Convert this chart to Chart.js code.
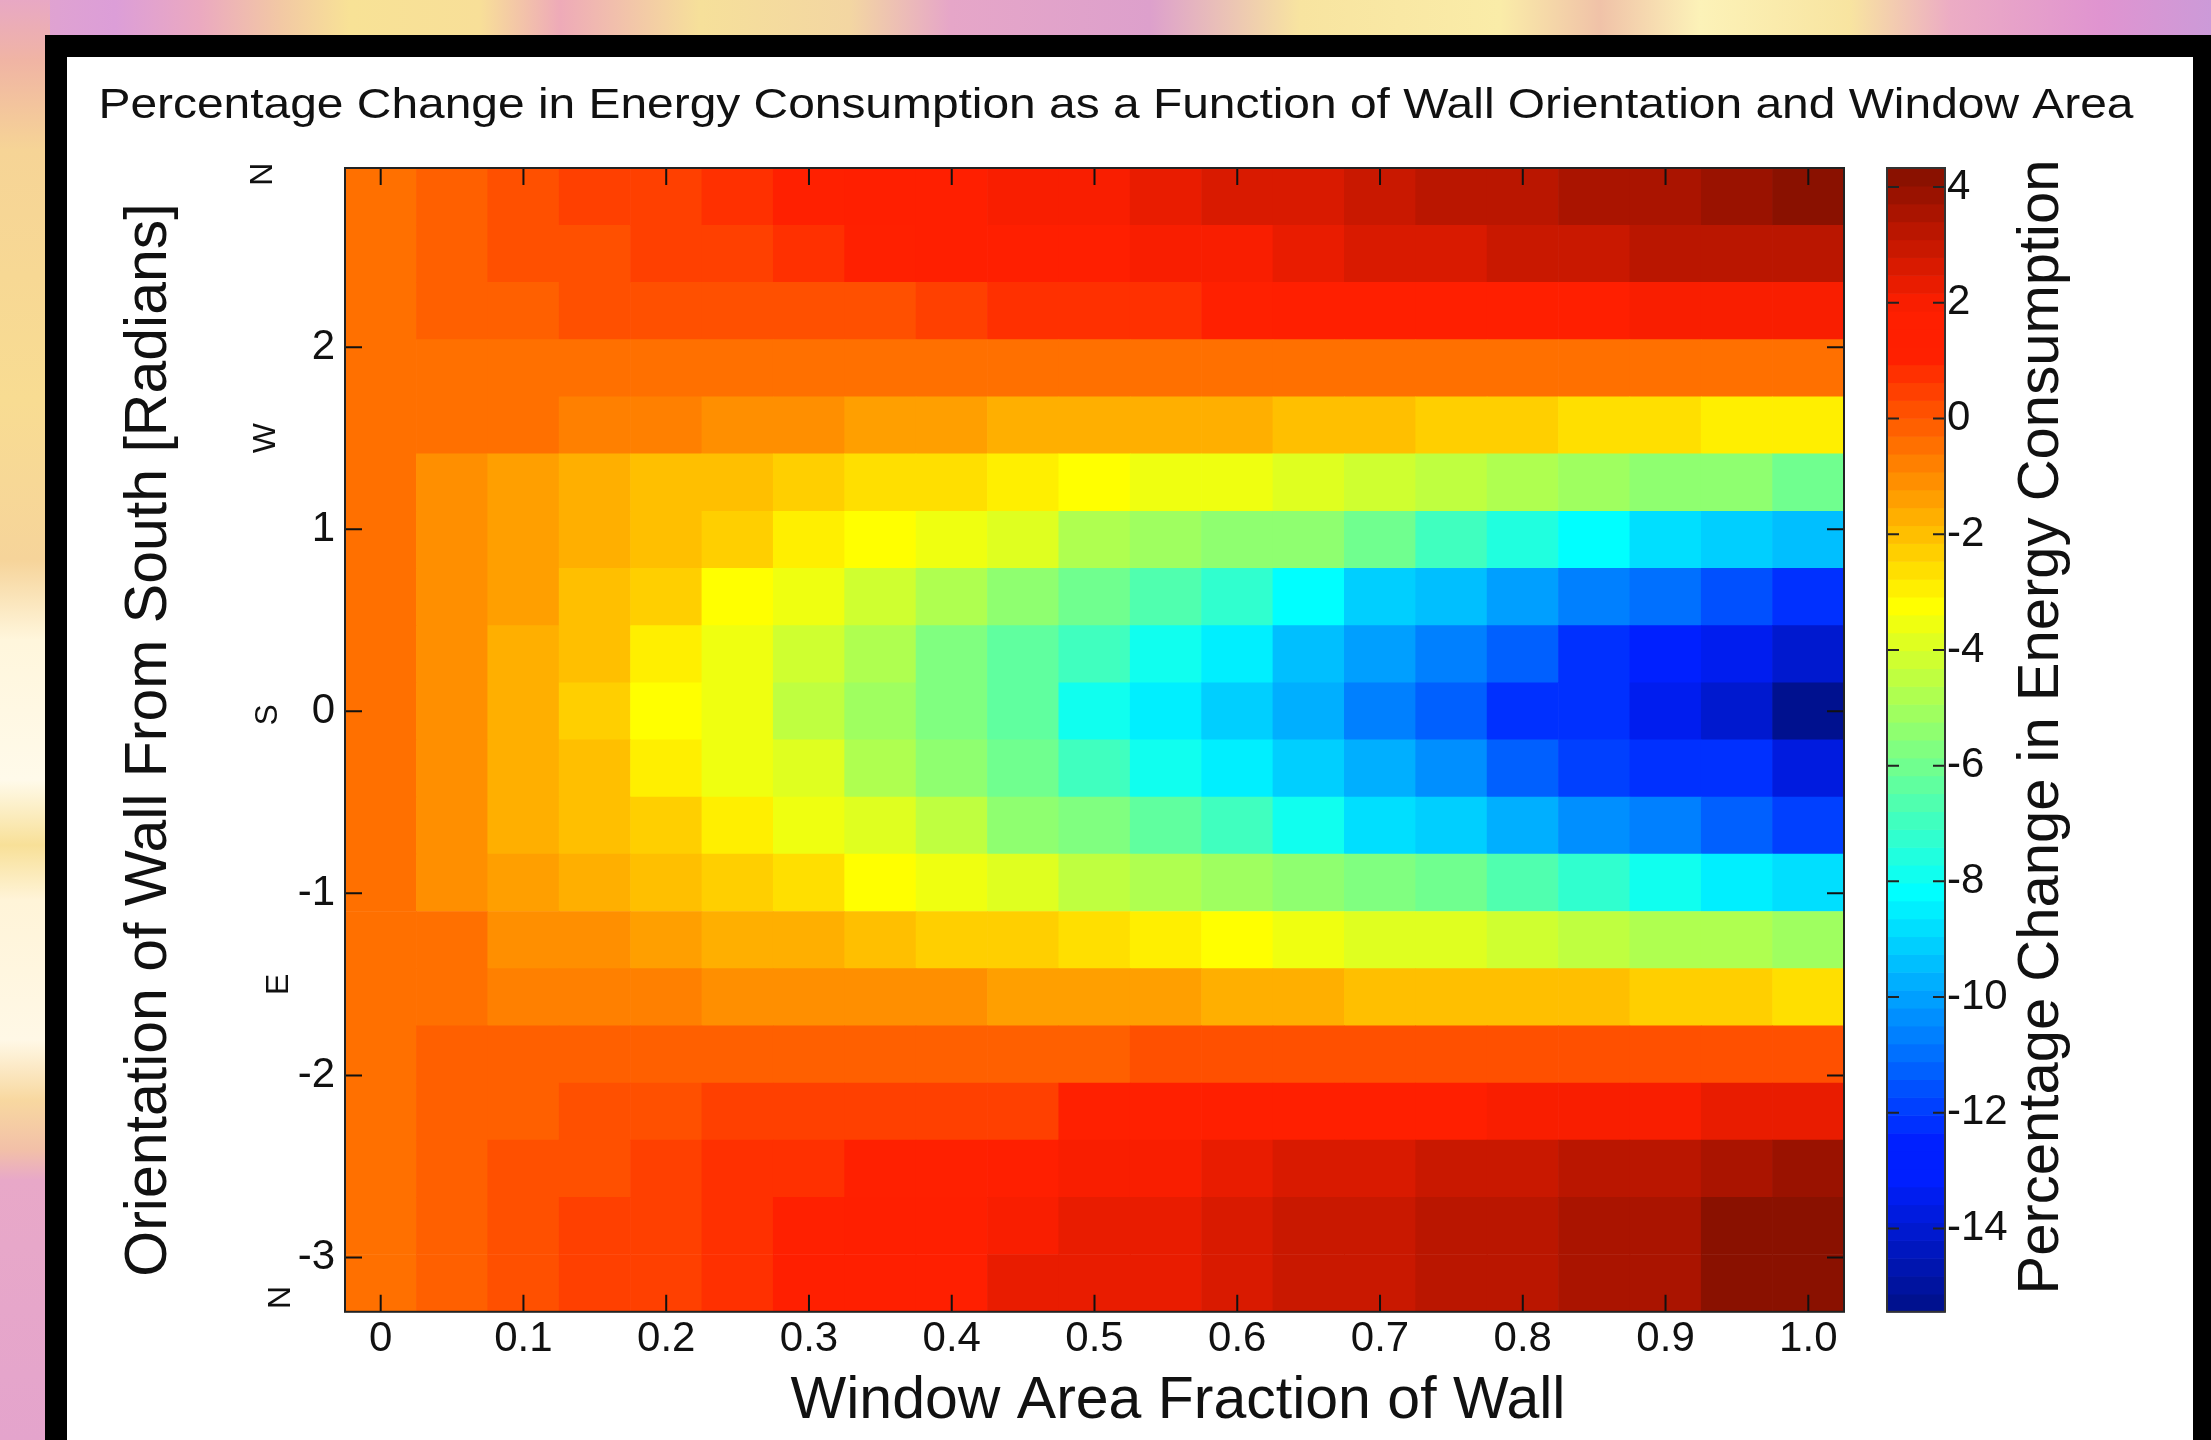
<!DOCTYPE html>
<html>
<head>
<meta charset="utf-8">
<title>Percentage Change in Energy Consumption</title>
<script src="https://cdn.jsdelivr.net/npm/chart.js@4.4.1/dist/chart.umd.min.js"></script>
<style>
  html, body { margin: 0; padding: 0; }
  body { width: 2211px; height: 1440px; overflow: hidden; position: relative; background: #f6d8b0; }
  .strip-top { position: absolute; left: 0; top: 0; width: 2211px; height: 40px;
    background: linear-gradient(to right, #e2a6cc 0px, #dc9ed8 115px, #eba9c0 200px, #f2c8a4 280px, #f8e296 350px,
      #f8df98 480px, #eeaab8 560px, #f6e09a 700px, #f3d6a2 850px, #e6a6c8 950px, #dda0cc 1150px, #f8e4a0 1300px,
      #faeca8 1500px, #f0c2a8 1600px, #fcf2b8 1700px, #f8e4a0 1850px, #ecacc4 1950px, #e094d0 2100px, #cc9ad8 2211px); }
  .strip-left { position: absolute; left: 0; top: 0; width: 50px; height: 1440px;
    background: linear-gradient(to bottom, #e8a8c4 0px, #f0b4a4 60px, #f6d496 150px, #f8dc92 400px, #f6d49a 560px,
      #fff6dc 640px, #fffaea 780px, #f8e098 845px, #fff4d8 900px, #fff8e6 1040px, #f8d8a0 1100px, #f2c0a8 1150px,
      #e8a8c8 1180px, #e4a4cc 1440px); }
  #frame { position: absolute; left: 45px; top: 35px; width: 2166px; height: 1420px; background: #000; }
  #paper { position: absolute; left: 67px; top: 57px; width: 2126px; height: 1400px; background: #fff; }
  #chart { position: absolute; left: 0; top: 0; }
</style>
</head>
<body>
<div class="strip-top"></div>
<div class="strip-left"></div>
<div id="frame"></div>
<div id="paper"></div>
<canvas id="chart" width="2211" height="1440"></canvas>
<script>
// window area fraction of wall (column centres)
const windowFraction = [0, 0.05, 0.1, 0.15, 0.2, 0.25, 0.3, 0.35, 0.4, 0.45, 0.5,
  0.55, 0.6, 0.65, 0.7, 0.75, 0.8, 0.85, 0.9, 0.95, 1.0];

// wall orientation from south in radians (row centres, top row first)
const orientation = [2.827, 2.513, 2.199, 1.885, 1.571, 1.257, 0.942, 0.628, 0.314, 0,
  -0.314, -0.628, -0.942, -1.257, -1.571, -1.885, -2.199, -2.513, -2.827, -3.142];

// percentage change in energy consumption, one row per orientation
const change = [
  [-0.45, -0.2, 0.1, 0.35, 0.4, 0.75, 1.2, 1.35, 1.4, 2.0, 2.1, 2.45, 2.7, 2.75, 2.95, 3.25, 3.3, 3.45, 3.7, 3.75, 4.15],
  [-0.45, -0.25, 0.15, 0.15, 0.45, 0.45, 0.8, 1.2, 1.25, 1.3, 1.4, 2.1, 2.15, 2.35, 2.7, 2.75, 2.85, 2.9, 3.1, 3.15, 3.35],
  [-0.45, -0.3, -0.3, 0.15, 0.15, 0.15, 0.3, 0.3, 0.35, 0.75, 0.8, 0.85, 1.2, 1.3, 1.35, 1.4, 1.45, 1.5, 2.05, 2.1, 2.15],
  [-0.45, -0.5, -0.5, -0.5, -0.5, -0.5, -0.5, -0.5, -0.5, -0.5, -0.5, -0.5, -0.5, -0.5, -0.5, -0.5, -0.5, -0.5, -0.5, -0.55, -0.55],
  [-0.45, -0.55, -0.6, -0.85, -0.9, -1.1, -1.2, -1.4, -1.45, -1.55, -1.6, -1.7, -1.8, -1.95, -2.1, -2.25, -2.35, -2.6, -2.65, -2.8, -2.85],
  [-0.45, -1.0, -1.4, -1.6, -1.85, -2.0, -2.25, -2.5, -2.7, -3.0, -3.3, -3.55, -3.7, -4.0, -4.3, -4.6, -4.75, -5.1, -5.25, -5.55, -6.0],
  [-0.45, -0.95, -1.4, -1.6, -2.1, -2.3, -2.8, -3.1, -3.7, -4.0, -4.65, -5.1, -5.25, -5.45, -5.9, -6.9, -7.5, -8.3, -8.65, -9.25, -9.55],
  [-0.45, -1.0, -1.4, -1.85, -2.45, -3.3, -3.7, -4.2, -4.75, -5.35, -5.9, -6.6, -7.4, -8.3, -9.0, -9.35, -9.9, -10.5, -10.95, -11.6, -12.2],
  [-0.45, -1.0, -1.55, -2.15, -2.8, -3.5, -4.3, -4.9, -5.65, -6.2, -6.95, -8.0, -8.6, -9.35, -9.95, -10.6, -11.4, -12.2, -12.4, -13.5, -14.0],
  [-0.45, -1.0, -1.7, -2.25, -3.1, -3.7, -4.6, -5.1, -5.85, -6.45, -7.95, -8.5, -9.25, -9.7, -10.6, -11.25, -12.2, -12.35, -13.4, -14.0, -15.44],
  [-0.45, -1.0, -1.7, -2.15, -2.8, -3.5, -4.0, -4.8, -5.4, -6.1, -6.85, -7.9, -8.6, -9.25, -9.85, -10.45, -11.15, -11.9, -12.2, -12.35, -13.7],
  [-0.45, -1.0, -1.55, -2.0, -2.45, -2.95, -3.5, -4.0, -4.6, -5.25, -5.75, -6.3, -6.9, -7.8, -8.65, -9.25, -9.8, -10.4, -10.75, -11.3, -11.9],
  [-0.45, -1.0, -1.4, -1.7, -1.85, -2.35, -2.65, -3.25, -3.55, -3.85, -4.4, -4.75, -5.2, -5.4, -5.85, -6.15, -6.6, -7.25, -7.85, -8.45, -8.8],
  [-0.45, -0.6, -0.95, -1.15, -1.4, -1.6, -1.8, -2.0, -2.3, -2.45, -2.6, -2.95, -3.25, -3.55, -3.85, -4.0, -4.3, -4.6, -4.65, -4.75, -5.1],
  [-0.45, -0.55, -0.65, -0.9, -0.9, -0.95, -1.1, -1.1, -1.15, -1.3, -1.4, -1.45, -1.7, -1.75, -1.85, -1.9, -1.9, -2.15, -2.2, -2.2, -2.5],
  [-0.45, -0.25, -0.25, -0.25, -0.25, -0.25, -0.25, -0.25, -0.25, -0.2, -0.2, 0.1, 0.1, 0.1, 0.1, 0.1, 0.1, 0.1, 0.15, 0.15, 0.15],
  [-0.45, -0.25, -0.25, 0.15, 0.15, 0.4, 0.4, 0.4, 0.55, 0.6, 1.0, 1.15, 1.25, 1.3, 1.8, 1.85, 1.9, 2.1, 2.15, 2.4, 2.45],
  [-0.45, -0.25, 0.15, 0.15, 0.45, 0.75, 0.8, 1.15, 1.2, 1.3, 2.0, 2.05, 2.45, 2.7, 2.75, 2.85, 2.9, 3.1, 3.4, 3.45, 3.75],
  [-0.45, -0.2, 0.2, 0.45, 0.5, 0.8, 1.2, 1.3, 1.35, 2.15, 2.2, 2.4, 2.7, 2.8, 2.9, 3.15, 3.2, 3.5, 3.65, 4.1, 4.25],
  [-0.45, -0.15, 0.2, 0.45, 0.5, 0.8, 1.25, 1.3, 1.4, 2.2, 2.25, 2.4, 2.7, 2.85, 2.9, 3.2, 3.25, 3.55, 3.7, 4.15, 4.33]
];

const xTicks = [0, 0.1, 0.2, 0.3, 0.4, 0.5, 0.6, 0.7, 0.8, 0.9, 1.0];
const yTicks = [-3, -2, -1, 0, 1, 2];
const cbTicks = [-14, -12, -10, -8, -6, -4, -2, 0, 2, 4];
const compassLabels = ['N', 'W', 'S', 'E', 'N'];
const compassAngles = [2.95, 1.5, -0.02, -1.5, -3.22];

// colour limits (data range) and axis limits
const cMin = -15.44, cMax = 4.33;
const rowHalf = Math.PI / 20;
const yMin = -Math.PI - rowHalf, yMax = Math.PI - rowHalf;

const FONT = '"Liberation Sans", Arial, Helvetica, sans-serif';

// matlab jet(64), with the slight warm/blue cast the slide screenshot has
function jetIndex(i) {
  let r = i <= 24 ? 0 : i <= 40 ? (i - 24) / 16 : i <= 55 ? 1 : (72 - i) / 16;
  let g = i <= 8 ? 0 : i <= 24 ? (i - 8) / 16 : i <= 39 ? 1 : i <= 55 ? (56 - i) / 16 : 0;
  const b = i <= 8 ? (i + 8) / 16 : i <= 23 ? 1 : i <= 39 ? (40 - i) / 16 : 0;
  if (i >= 56) r = Math.min(1, r + 0.04);
  g = Math.max(g, 0.12 * Math.max(r, b));
  return 'rgb(' + Math.round(r * 255) + ',' + Math.round(g * 255) + ',' + Math.round(b * 255) + ')';
}
function jet(v) {
  let i = Math.floor((v - cMin) / (cMax - cMin) * 64) + 1;
  i = Math.max(1, Math.min(64, i));
  return jetIndex(i);
}

const cells = [];
orientation.forEach((theta, r) => {
  windowFraction.forEach((w, c) => {
    cells.push({ x: w, y: [theta - rowHalf, theta + rowHalf], v: change[r][c] });
  });
});

const tickLen = 17;
const cbLeft = 1887, cbWidth = 58;

const decor = {
  id: 'decor',
  afterDatasetsDraw(chart) {
    const { ctx, chartArea: a, scales: { x, y, cb } } = chart;
    ctx.save();
    // colorbar
    const step = (cMax - cMin) / 64;
    for (let k = 0; k < 64; k++) {
      const y0 = cb.getPixelForValue(cMin + (k + 1) * step);
      const y1 = cb.getPixelForValue(cMin + k * step);
      ctx.fillStyle = jetIndex(k + 1);
      ctx.fillRect(cbLeft, y0, cbWidth, y1 - y0 + 0.6);
    }
    ctx.strokeStyle = '#222';
    ctx.lineWidth = 2;
    ctx.beginPath();
    cb.ticks.forEach(t => {
      const py = cb.getPixelForValue(t.value);
      ctx.moveTo(cbLeft, py); ctx.lineTo(cbLeft + 12, py);
      ctx.moveTo(cbLeft + cbWidth - 12, py); ctx.lineTo(cbLeft + cbWidth, py);
    });
    ctx.stroke();
    ctx.strokeStyle = '#333';
    ctx.strokeRect(cbLeft, a.top, cbWidth, a.bottom - a.top);

    // inward ticks on all four sides
    ctx.strokeStyle = '#111';
    ctx.beginPath();
    x.ticks.forEach(t => {
      const px = x.getPixelForValue(t.value);
      ctx.moveTo(px, a.bottom); ctx.lineTo(px, a.bottom - tickLen);
      ctx.moveTo(px, a.top); ctx.lineTo(px, a.top + tickLen);
    });
    y.ticks.forEach(t => {
      const py = y.getPixelForValue(t.value);
      ctx.moveTo(a.left, py); ctx.lineTo(a.left + tickLen, py);
      ctx.moveTo(a.right, py); ctx.lineTo(a.right - tickLen, py);
    });
    ctx.stroke();
    ctx.strokeStyle = '#222';
    ctx.strokeRect(a.left, a.top, a.right - a.left, a.bottom - a.top);
    ctx.restore();
  },
  afterDraw(chart) {
    const { ctx, scales: { y } } = chart;
    ctx.save();
    ctx.fillStyle = '#111';
    ctx.textBaseline = 'alphabetic';
    ctx.textAlign = 'center';

    // title (stretched a little, as in the slide)
    const title = 'Percentage Change in Energy Consumption as a Function of Wall Orientation and Window Area';
    ctx.font = '43px ' + FONT;
    const w = ctx.measureText(title).width;
    ctx.save();
    ctx.translate(1116, 118);
    ctx.scale(2035 / w, 1);
    ctx.fillText(title, 0, 0);
    ctx.restore();

    ctx.font = '59px ' + FONT;
    ctx.fillText('Window Area Fraction of Wall', 1178, 1418);

    ctx.save();
    ctx.translate(166, 740);
    ctx.rotate(-Math.PI / 2);
    ctx.fillText('Orientation of Wall From South [Radians]', 0, 0);
    ctx.restore();

    ctx.font = '58px ' + FONT;
    ctx.save();
    ctx.translate(2058, 727);
    ctx.rotate(-Math.PI / 2);
    ctx.fillText('Percentage Change in Energy Consumption', 0, 0);
    ctx.restore();

    // compass letters beside the orientation axis
    const compassX = [263, 266, 268, 279, 281];
    ctx.font = '32px ' + FONT;
    ctx.textBaseline = 'middle';
    compassLabels.forEach((lab, i) => {
      ctx.save();
      ctx.translate(compassX[i], y.getPixelForValue(compassAngles[i]));
      ctx.rotate(-Math.PI / 2);
      ctx.fillText(lab, 0, 0);
      ctx.restore();
    });
    ctx.restore();
  }
};

const tickFont = { family: FONT, size: 42 };

new Chart(document.getElementById('chart'), {
  type: 'bar',
  data: {
    datasets: [{
      data: cells,
      xAxisID: 'x',
      yAxisID: 'y',
      backgroundColor: ctx => jet(ctx.raw.v),
      borderWidth: 0,
      barPercentage: 1,
      categoryPercentage: 1
    }]
  },
  options: {
    responsive: false,
    animation: false,
    events: [],
    layout: { padding: { top: 168, left: 0, right: 0, bottom: 0 } },
    plugins: { legend: { display: false }, tooltip: { enabled: false } },
    scales: {
      x: {
        type: 'linear', min: -0.025, max: 1.025, offset: false, bounds: 'data',
        afterBuildTicks: s => { s.ticks = xTicks.map(v => ({ value: v })); },
        afterFit: s => { s.height = 128; },
        grid: { display: false, drawTicks: false },
        border: { display: false },
        ticks: {
          font: tickFont, color: '#111', padding: 2, maxRotation: 0, autoSkip: false,
          callback: v => v === 0 ? '0' : v.toFixed(1)
        }
      },
      y: {
        type: 'linear', min: yMin, max: yMax, bounds: 'data',
        afterBuildTicks: s => { s.ticks = yTicks.map(v => ({ value: v })); },
        afterFit: s => { s.width = 345; },
        grid: { display: false, drawTicks: false },
        border: { display: false },
        ticks: { font: tickFont, color: '#111', padding: 10, autoSkip: false, callback: v => String(v) }
      },
      cb: {
        type: 'linear', axis: 'y', position: 'right', min: cMin, max: cMax, bounds: 'data',
        afterBuildTicks: s => { s.ticks = cbTicks.map(v => ({ value: v })); },
        afterFit: s => { s.width = 367; },
        grid: { display: false, drawTicks: false },
        border: { display: false },
        ticks: { font: tickFont, color: '#111', padding: 103, autoSkip: false, callback: v => String(v) }
      }
    }
  },
  plugins: [decor]
});
</script>
</body>
</html>
